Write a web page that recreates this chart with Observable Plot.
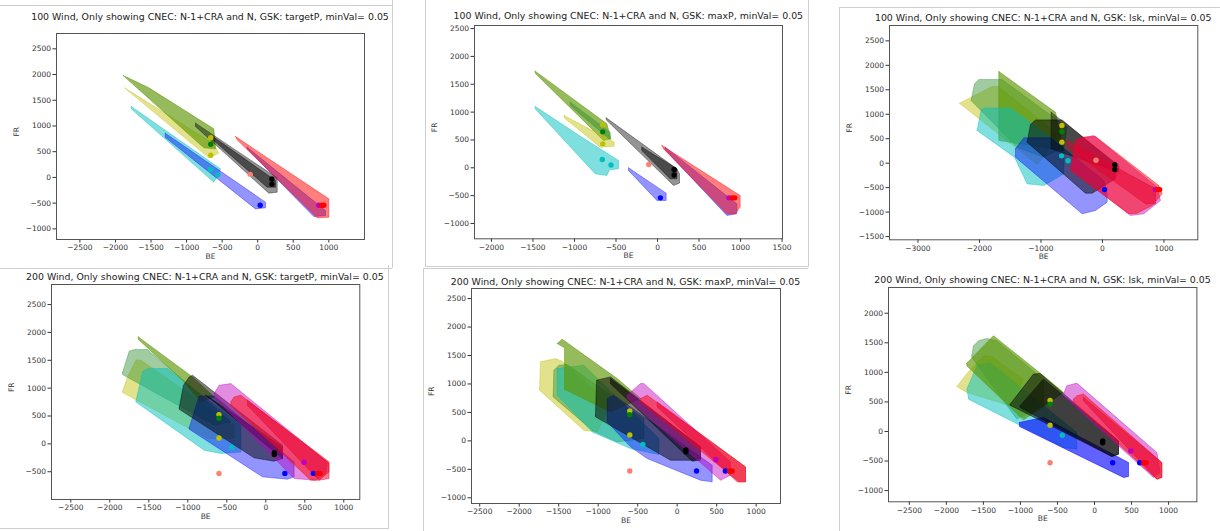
<!DOCTYPE html>
<html><head><meta charset="utf-8">
<script src="https://cdn.jsdelivr.net/npm/d3@7"></script>
<script src="https://cdn.jsdelivr.net/npm/@observablehq/plot@0.6"></script>
<style>
body{margin:0;background:#fff;width:1220px;height:531px;position:relative;overflow:hidden;font-family:"DejaVu Sans",sans-serif}
.t{position:absolute;font-size:9.4px;white-space:nowrap;transform:translate(-50%,-50%);color:#222}
.ln{position:absolute;background:#cfcfcf}
svg{position:absolute}
</style></head><body>
<script>
// ---------- data ----------
const titles = [
  "100 Wind, Only showing CNEC: N-1+CRA and N, GSK: targetP, minVal= 0.05",
  "100 Wind, Only showing CNEC: N-1+CRA and N, GSK: maxP, minVal= 0.05",
  "100 Wind, Only showing CNEC: N-1+CRA and N, GSK: lsk, minVal= 0.05",
  "200 Wind, Only showing CNEC: N-1+CRA and N, GSK: targetP, minVal= 0.05",
  "200 Wind, Only showing CNEC: N-1+CRA and N, GSK: maxP, minVal= 0.05",
  "200 Wind, Only showing CNEC: N-1+CRA and N, GSK: lsk, minVal= 0.05"
];
const xTicks1 = [-2500,-2000,-1500,-1000,-500,0,500,1000];
const yTicks1 = [-1000,-500,0,500,1000,1500,2000,2500];
const xTicks2 = [-2000,-1500,-1000,-500,0,500,1000,1500];
const yTicks2 = [-1000,-500,0,500,1000,1500,2000,2500];
const xTicks3 = [-3000,-2000,-1000,0,1000];
const yTicks3 = [-1500,-1000,-500,0,500,1000,1500,2000,2500];
const xTicks4 = [-2500,-2000,-1500,-1000,-500,0,500,1000];
const yTicks4 = [-500,0,500,1000,1500,2000,2500];
const xTicks5 = [-2500,-2000,-1500,-1000,-500,0,500,1000];
const yTicks5 = [-1000,-500,0,500,1000,1500,2000,2500];
const xTicks6 = [-2500,-2000,-1500,-1000,-500,0,500,1000];
const yTicks6 = [-1000,-500,0,500,1000,1500,2000];

const dots100 = [
  {s:"y",BE:-660,FR:770},{s:"g",BE:-660,FR:645},{s:"y",BE:-660,FR:430},
  {s:"c",BE:-665,FR:150},{s:"c",BE:-560,FR:50},{s:"s",BE:-105,FR:60},
  {s:"k",BE:200,FR:-30},{s:"k",BE:200,FR:-130},{s:"b",BE:35,FR:-540},
  {s:"m",BE:860,FR:-540},{s:"r",BE:900,FR:-540},{s:"r",BE:930,FR:-540}
];
const dots200 = [
  {s:"y",BE:-600,FR:525},{s:"g",BE:-600,FR:460},{s:"y",BE:-600,FR:105},
  {s:"c",BE:-435,FR:-62},{s:"s",BE:-600,FR:-530},{s:"k",BE:110,FR:-160},
  {s:"k",BE:110,FR:-190},{s:"m",BE:490,FR:-330},{s:"b",BE:245,FR:-530},
  {s:"b",BE:610,FR:-530},{s:"r",BE:665,FR:-530},{s:"r",BE:695,FR:-530}
];

const shapes100targetP = [
  {s:"y", pts:[[-1872,1741],[-617,653],[-546,471],[-687,380]]},
  {s:"o", pts:[[-1891,1981],[-1530,1741],[-617,944],[-593,555],[-757,575]]},
  {s:"c", pts:[[-1778,1378],[-523,167],[-546,69],[-617,-93],[-1778,1333]]},
  {s:"b", pts:[[-1300,860],[110,-481],[110,-592],[-31,-612],[-1300,780]]},
  {s:"kg", pts:[[-874,1054],[274,-8],[274,-287],[156,-306],[-874,990]]},
  {s:"kd", pts:[[-617,780],[250,-60],[250,-190],[133,-190],[-617,716]]},
  {s:"b", pts:[[-148,588],[953,-644],[953,-741],[789,-761],[-148,556]]},
  {s:"r", pts:[[-312,795],[1000,-417],[1000,-773],[836,-786],[-288,730]]}
];
const shapes100maxP = [
  {s:"o", pts:[[-1473,1735],[-610,790],[-562,521],[-650,491],[-1473,1699]]},
  {s:"g", pts:[[-1052,1179],[-570,640],[-570,503],[-1052,1119]]},
  {s:"y", pts:[[-1124,939],[-522,461],[-522,389],[-690,371],[-1124,897]]},
  {s:"c", pts:[[-1473,1101],[-911,550],[-470,132],[-470,-18],[-578,-36],[-610,-138],[-751,-108],[-1473,1059]]},
  {s:"b", pts:[[-349,0],[104,-455],[104,-586],[-8,-586],[-349,-48]]},
  {s:"kg", pts:[[-618,897],[233,-18],[265,-108],[265,-275],[193,-317],[-618,862]]},
  {s:"kd", pts:[[-189,371],[233,-18],[233,-197],[153,-197],[-189,311]]},
  {s:"b", pts:[[92,371],[955,-646],[955,-826],[835,-856],[92,323]]},
  {s:"r", pts:[[52,401],[995,-497],[995,-706],[935,-826],[835,-826],[72,341]]}
];
const shapes100lsk = [
  {s:"y", pts:[[-2325,1226],[-1794,1566],[-1686,1566],[-737,599],[-954,123],[-1062,-27]]},
  {s:"g", pts:[[-2135,1280],[-2081,1621],[-2011,1709],[-1631,1709],[-575,735],[-629,327],[-954,123],[-1388,327]]},
  {s:"o", pts:[[-1686,1873],[-764,1042],[-629,259],[-1686,463]]},
  {s:"c", pts:[[-2038,667],[-1973,1090],[-1902,1130],[-1496,1130],[-629,327],[-629,-218],[-954,-456],[-1225,-422],[-1431,123]]},
  {s:"b", pts:[[-1415,293],[-1279,518],[-846,518],[22,-354],[76,-627],[76,-797],[-114,-967],[-331,-1035],[-1415,123]]},
  {s:"k", pts:[[-1225,429],[-1171,790],[-1089,885],[-656,885],[238,-48],[211,-320],[-168,-613],[-276,-613]]},
  {s:"kg", pts:[[-835,1042],[266,-48],[266,-184],[-835,293]]},
  {s:"m", pts:[[-412,497],[-141,565],[889,-490],[943,-763],[672,-1035],[455,-1069],[-520,-116]]},
  {s:"r", pts:[[-439,463],[-331,531],[-114,545],[916,-456],[970,-627],[808,-865],[564,-1022],[428,-1035],[-520,-150]]},
  {s:"rd", pts:[[-575,463],[862,-524],[862,-831],[699,-831],[-575,327]]}
];
const shapes200targetP = [
  {s:"y", pts:[[-1836,945],[-1772,1202],[-1665,1501],[-1601,1501],[-406,335],[-406,96],[-747,96],[-1836,921]]},
  {s:"g", pts:[[-1836,1280],[-1751,1662],[-1687,1692],[-1516,1692],[-833,873],[-448,395],[-662,335],[-1836,1244]]},
  {s:"c", pts:[[-1665,765],[-1580,1292],[-1516,1351],[-1260,1351],[-320,335],[-320,-144],[-576,-173],[-790,-114],[-1665,753]]},
  {s:"o", pts:[[-1635,1920],[-939,1202],[-662,843],[-833,753],[-1068,1142],[-1635,1878]]},
  {s:"b", pts:[[-982,287],[-854,861],[-662,861],[363,-323],[363,-592],[278,-634],[-43,-592],[-982,263]]},
  {s:"k", pts:[[-1110,646],[-1055,1052],[-982,1202],[-939,1232],[214,-24],[214,-263],[107,-311],[-149,-251],[-1110,622]]},
  {s:"kd", pts:[[-769,873],[214,-54],[214,-263],[-662,753]]},
  {s:"m", pts:[[-662,903],[-598,1052],[-448,1082],[790,-323],[768,-532],[641,-652],[363,-622],[-662,843]]},
  {s:"r", pts:[[-448,753],[-406,843],[-320,873],[811,-323],[811,-502],[683,-652],[576,-652],[-448,694]]},
  {s:"rd", pts:[[-235,783],[811,-353],[811,-622],[683,-652],[-235,694]]}
];
const shapes200maxP = [
  {s:"y", pts:[[-1743,907],[-1730,1388],[-1540,1446],[-1456,1399],[-844,626],[-1013,158],[-1182,187],[-1743,890]]},
  {s:"g", pts:[[-1570,802],[-1561,1241],[-1498,1329],[-1393,1341],[-422,392],[-422,41],[-760,-18],[-1076,187],[-1570,773]]},
  {s:"c", pts:[[-1519,1271],[-1182,1329],[-232,41],[-232,-240],[-591,-135],[-1076,158],[-1519,802]]},
  {s:"o", pts:[[-1519,1710],[-1456,1786],[-760,1095],[-464,744],[-844,509],[-1426,907],[-1426,1634]]},
  {s:"b", pts:[[-886,334],[-886,744],[-802,802],[443,-427],[443,-720],[295,-691],[-380,-310],[-591,-105]]},
  {s:"k", pts:[[-1034,451],[-1021,1066],[-844,1124],[295,-105],[295,-310],[211,-340],[-84,-340],[-1034,422]]},
  {s:"kd", pts:[[-844,1095],[295,-105],[295,-340],[190,-357],[-844,1007]]},
  {s:"m", pts:[[-633,802],[-464,1007],[-422,1007],[675,-369],[675,-603],[549,-691],[-633,744]]},
  {s:"r", pts:[[-464,744],[-422,773],[-380,802],[865,-457],[865,-720],[781,-720],[-464,685]]},
  {s:"rd", pts:[[-253,685],[865,-457],[865,-720],[760,-720],[-253,597]]}
];
const shapes200lsk = [
  {s:"y", pts:[[-1859,761],[-1701,1010],[-1499,1280],[-1386,1269],[-959,885],[-1139,434],[-1724,660]]},
  {s:"g", pts:[[-1656,1292],[-1634,1449],[-1566,1534],[-1454,1574],[-1319,1534],[-689,885],[-689,434],[-1049,209],[-1656,1252]]},
  {s:"c", pts:[[-1701,575],[-1724,716],[-1589,1111],[-1409,1167],[-239,-17],[-239,-299],[-419,-271],[-1701,547]]},
  {s:"o", pts:[[-1724,1156],[-1364,1619],[-689,942],[-419,660],[-959,197],[-1724,1111]]},
  {s:"bd", pts:[[-1013,152],[-689,237],[459,-525],[459,-761],[392,-778],[-1013,85]]},
  {s:"k", pts:[[-1139,462],[-824,970],[-734,981],[324,-158],[324,-384],[234,-423],[-1139,445]]},
  {s:"kd", pts:[[-1004,434],[-689,885],[324,-158],[324,-384],[234,-423],[-1004,406]]},
  {s:"m", pts:[[-419,632],[-374,773],[-239,818],[842,-355],[887,-694],[797,-778],[-419,600]]},
  {s:"r", pts:[[-284,547],[-239,603],[-149,632],[909,-525],[909,-778],[842,-807],[-284,490]]},
  {s:"rd", pts:[[-149,575],[909,-525],[909,-778],[842,-807],[-149,519]]}
];

// ---------- styles ----------
const FILL = {y:"#bfbf00", g:"#2f8f2f", o:"#5e9605", c:"#00bfbf", b:"#0000ff", bd:"#0000ff",
  k:"#000000", kg:"#000000", kd:"#000000", m:"#bf00bf", r:"#ff0000", rd:"#e8002e"};
const OPAC = {y:.45, g:.45, o:.65, c:.5, b:.42, bd:.62, k:.5, kg:.42, kd:.5, m:.45, r:.5, rd:.5};
const DOTC = {y:"#bfbf00", g:"#008000", c:"#00bfbf", s:"#fa8072", k:"#000000", b:"#0000ff", m:"#bf00bf", r:"#ff0000"};

const panels = [
  {shapes:shapes100targetP, dots:dots100, title:titles[0], L:56, R:364, T:33, B:239, xd:[-2829,1502], yd:[-1207,2798], xt:xTicks1, yt:yTicks1, ty:15.7},
  {shapes:shapes100maxP, dots:dots100, title:titles[1], L:474.3, R:782.3, T:25, B:238.3, xd:[-2204,1505], yd:[-1275,2555], xt:xTicks2, yt:yTicks2, ty:15},
  {shapes:shapes100lsk, dots:dots100, title:titles[2], L:889, R:1197.3, T:25, B:239.3, xd:[-3463,1550], yd:[-1566,2814], xt:xTicks3, yt:yTicks3, ty:16.7},
  {shapes:shapes200targetP, dots:dots200, title:titles[3], L:50.7, R:359, T:284.3, B:499.3, xd:[-2747,1205], yd:[-998,2860], xt:xTicks4, yt:yTicks4, ty:275.7},
  {shapes:shapes200maxP, dots:dots200, title:titles[4], L:471, R:780, T:288.3, B:503.3, xd:[-2604,1308], yd:[-1100,2677], xt:xTicks5, yt:yTicks5, ty:281},
  {shapes:shapes200lsk, dots:dots200, title:titles[5], L:888.3, R:1196.7, T:286.7, B:501, xd:[-2781,1382], yd:[-1189,2435], xt:xTicks6, yt:yTicks6, ty:279}
];

// screenshot borders
const borders = [
  [0,5,392,1],[392,0,1,268],[0,268,392,1],
  [425,0,1,266],[425,266,383,1],[808,0,1,267],
  [839,7,381,1],[839,7,1,260],
  [388,265,1,264],[0,528,388,1],
  [423,268,385,1],[423,268,1,263],
  [839,265,1,266]
];
for (const [x,y,w,h] of borders) {
  const d = document.createElement("div");
  d.className = "ln";
  Object.assign(d.style, {left:x+"px", top:y+"px", width:w+"px", height:h+"px"});
  document.body.appendChild(d);
}

const ML = 48, MR = 10, MT = 10, MB = 30;
const fmt = d3.format("d");
for (const p of panels) {
  const w = (p.R - p.L) + ML + MR, h = (p.B - p.T) + MT + MB;
  const marks = [];
  for (const sh of p.shapes) {
    const closed = [...sh.pts, sh.pts[0]];
    marks.push(Plot.line(closed, {x: d => d[0], y: d => d[1], fill: FILL[sh.s], fillOpacity: OPAC[sh.s],
      stroke: FILL[sh.s], strokeOpacity: Math.min(1, OPAC[sh.s] + 0.1), strokeWidth: 0.7, clip: true}));
  }
  marks.push(Plot.dot(p.dots, {x: "BE", y: "FR", fill: d => DOTC[d.s], r: 2.7, clip: true}));
  marks.push(Plot.frame({stroke: "#555", strokeWidth: 1}));
  marks.push(Plot.text(["BE"], {frameAnchor: "bottom", dy: 19.5, text: d => d, fontSize: 7.6, fill: "#333"}));
  marks.push(Plot.text(["FR"], {frameAnchor: "left", dx: -40, rotate: -90, text: d => d, fontSize: 7.6, fill: "#333"}));
  const svg = Plot.plot({
    width: w, height: h, marginLeft: ML, marginRight: MR, marginTop: MT, marginBottom: MB,
    style: {fontFamily: "DejaVu Sans", fontSize: "7.5px", background: "transparent", color: "#333", overflow: "visible"},
    color: {type: "identity"},
    x: {domain: p.xd, ticks: p.xt, tickSize: 3.5, tickPadding: 2, label: null, tickFormat: fmt},
    y: {domain: p.yd, ticks: p.yt, tickSize: 3.5, tickPadding: 2, label: null, tickFormat: fmt},
    marks
  });
  svg.style.left = (p.L - ML) + "px";
  svg.style.top = (p.T - MT) + "px";
  document.body.appendChild(svg);
  const t = document.createElement("div");
  t.className = "t";
  t.textContent = p.title;
  t.style.left = ((p.L + p.R) / 2) + "px";
  t.style.top = p.ty + "px";
  document.body.appendChild(t);
}
</script>
</body></html>
